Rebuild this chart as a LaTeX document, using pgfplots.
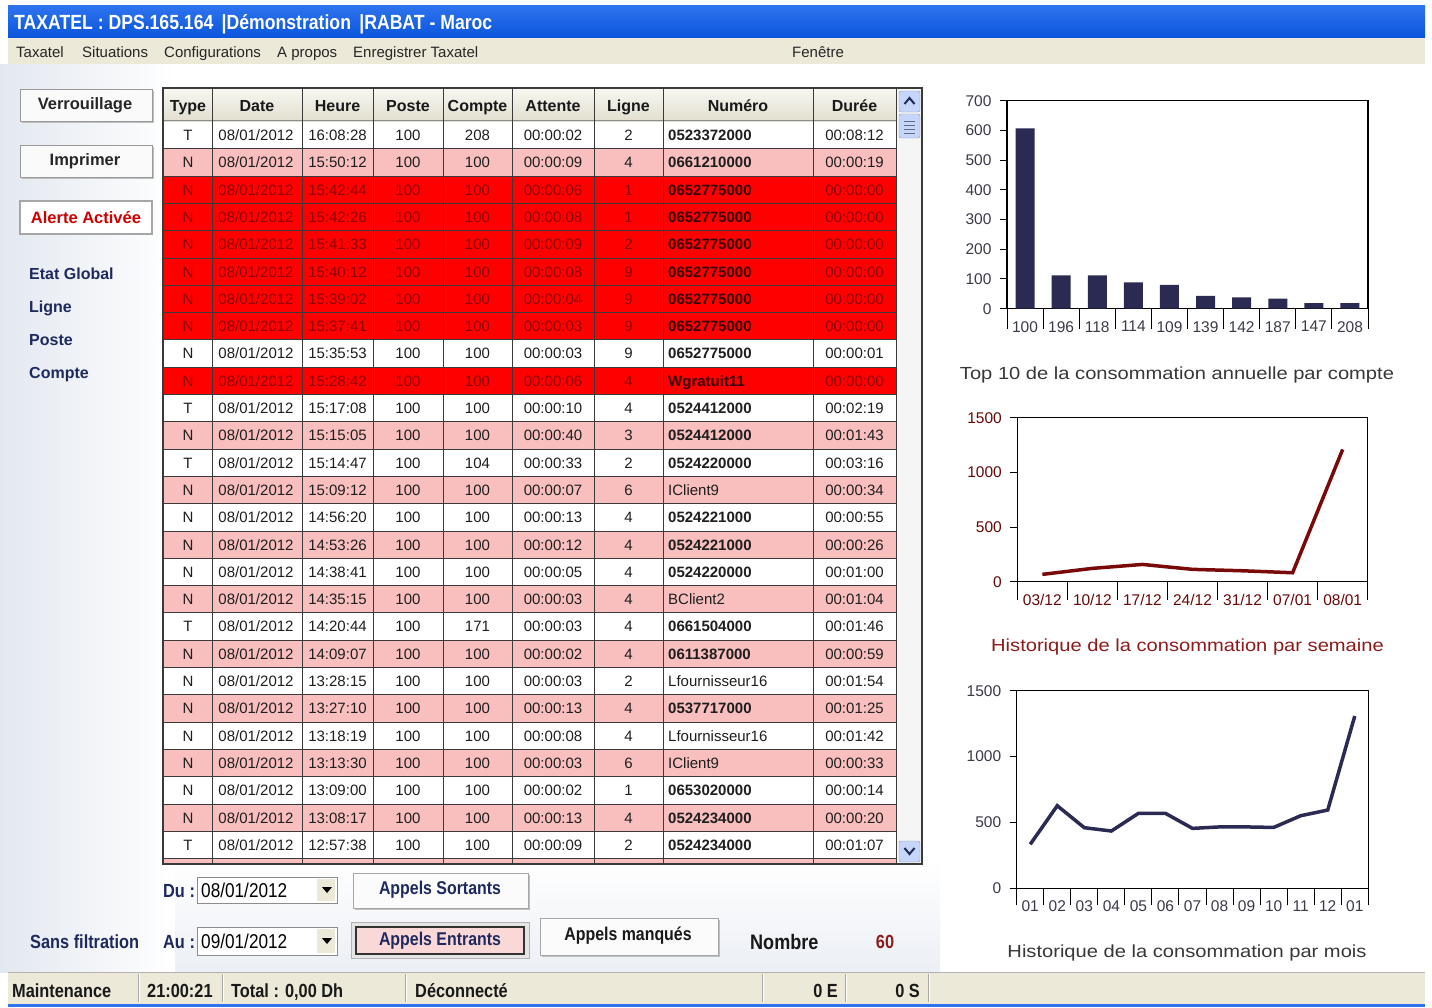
\documentclass[border=0pt]{standalone}
\usepackage{pgfplots}
\pgfplotsset{compat=1.18}
\usepackage{fontspec}
\setmainfont{Liberation Sans}
\newfontfamily\nar[FakeStretch=0.86]{Liberation Sans}
\newfontfamily\wide[FakeStretch=1.15]{Liberation Sans}
\newcommand\fs[1]{\fontsize{#1}{#1}\selectfont}
\definecolor{xpblue}{HTML}{0A55DC}
\definecolor{xpblue2}{HTML}{2F74EE}
\definecolor{menubg}{HTML}{ECE9D8}
\definecolor{rowP}{HTML}{F9BEBE}
\definecolor{rowR}{HTML}{FF0000}
\definecolor{rowW}{HTML}{FFFFFF}
\definecolor{txtW}{HTML}{1E1E1E}
\colorlet{txtP}{txtW}
\definecolor{txtR}{HTML}{900000}
\definecolor{numR}{HTML}{3A0000}
\definecolor{gridc}{HTML}{3A3A3A}
\definecolor{navy}{HTML}{1E2A5E}
\definecolor{barc}{HTML}{2A2A52}
\definecolor{wkred}{HTML}{7A0A0A}
\definecolor{capred}{HTML}{8E1B1B}
\definecolor{lblgray}{HTML}{3A3A48}
\definecolor{hdrtop}{HTML}{F7F6F0}
\definecolor{hdrbot}{HTML}{E2DFCF}
\definecolor{scrl}{HTML}{C6D6FA}
\definecolor{bgblue}{HTML}{E3E8F0}

\newcommand\trow[9]{%
  \pgfmathsetmacro\yt{-(121.5+27.3*(#1-1))}%
  \pgfmathsetmacro\yb{\yt-27.3}%
  \pgfmathsetmacro\yy{\yt-13.65-5.4}%
  \fill[row#2] (164,\yt) rectangle (896,\yb);
  \begin{scope}[every node/.style={text=txt#2, font={\fs{15}}, anchor=base, inner sep=0pt}]
    \node at (188,\yy) {#3};
    \node at (256,\yy) {08/01/2012};
    \node at (337.5,\yy) {#4};
    \node at (408,\yy) {100};
    \node at (477.5,\yy) {#5};
    \node at (553,\yy) {#6};
    \node at (628.5,\yy) {#7};
    \node[anchor=base west] at (668,\yy) {#8};
    \node at (854.5,\yy) {#9};
  \end{scope}
}

\begin{document}
\begin{tikzpicture}[x=1pt, y=1pt]
\useasboundingbox (0,0) rectangle (1432,-1007);
% background
\fill[white] (0,0) rectangle (1432,-1007);
\shade[left color=bgblue, right color=white] (0,-64) rectangle (175,-972);
\shade[top color=white, bottom color=bgblue!70] (175,-860) rectangle (940,-972);
% title bar
\shade[top color=xpblue2, bottom color=xpblue] (8,-5) rectangle (1425,-38);
\node[anchor=base west, text=white, font={\nar\bfseries\fs{20.5}}, inner sep=0pt] at (14,-29) {TAXATEL : DPS.165.164 \,|Démonstration \,|RABAT - Maroc};
% menu bar
\fill[menubg] (8,-38) rectangle (1425,-64);
\begin{scope}[every node/.style={anchor=base west, inner sep=0pt, font={\fs{15}}, text=black!85}]
\node at (16,-57) {Taxatel};
\node at (82,-57) {Situations};
\node at (164,-57) {Configurations};
\node at (277,-57) {A propos};
\node at (353,-57) {Enregistrer Taxatel};
\node at (792,-57) {Fenêtre};
\end{scope}
% left buttons
\fill[black!25] (22,-91) rectangle (154,-123);
\filldraw[fill=white!96!gray, draw=black!40] (20,-89) rectangle (152,-121);
\node[font={\bfseries\fs{16.5}}, text=black!85] at (85,-105) {Verrouillage};
\fill[black!25] (22,-147) rectangle (154,-179);
\filldraw[fill=white!96!gray, draw=black!40] (20,-145) rectangle (152,-177);
\node[font={\bfseries\fs{16.5}}, text=black!85] at (85,-161) {Imprimer};
\filldraw[fill=white, draw=black!35, line width=2pt] (20,-201) rectangle (152,-234);
\node[font={\bfseries\fs{16.5}}, text=red!80!black] at (86,-218) {Alerte Activée};
\begin{scope}[every node/.style={anchor=base west, inner sep=0pt, font={\bfseries\fs{16}}, text=navy}]
\node at (29,-279) {Etat Global};
\node at (29,-312) {Ligne};
\node at (29,-345) {Poste};
\node at (29,-378) {Compte};
\end{scope}
% table header
\shade[top color=hdrtop, bottom color=hdrbot] (164,-89) rectangle (896,-121.5);
\begin{scope}[every node/.style={font={\bfseries\fs{16}}, text=black!90, anchor=base, inner sep=0pt}]
\node at (188,-111) {Type};
\node at (257,-111) {Date};
\node at (337.5,-111) {Heure};
\node at (408,-111) {Poste};
\node at (477.5,-111) {Compte};
\node at (553,-111) {Attente};
\node at (628.5,-111) {Ligne};
\node at (738,-111) {Numéro};
\node at (854.5,-111) {Durée};
\end{scope}
% rows
\trow{1}{W}{T}{16:08:28}{208}{00:00:02}{2}{\bfseries 0523372000}{00:08:12}
\trow{2}{P}{N}{15:50:12}{100}{00:00:09}{4}{\bfseries 0661210000}{00:00:19}
\trow{3}{R}{N}{15:42:44}{100}{00:00:06}{1}{\bfseries\color{numR}0652775000}{00:00:00}
\trow{4}{R}{N}{15:42:26}{100}{00:00:08}{1}{\bfseries\color{numR}0652775000}{00:00:00}
\trow{5}{R}{N}{15:41:33}{100}{00:00:09}{2}{\bfseries\color{numR}0652775000}{00:00:00}
\trow{6}{R}{N}{15:40:12}{100}{00:00:08}{9}{\bfseries\color{numR}0652775000}{00:00:00}
\trow{7}{R}{N}{15:39:02}{100}{00:00:04}{9}{\bfseries\color{numR}0652775000}{00:00:00}
\trow{8}{R}{N}{15:37:41}{100}{00:00:03}{9}{\bfseries\color{numR}0652775000}{00:00:00}
\trow{9}{W}{N}{15:35:53}{100}{00:00:03}{9}{\bfseries 0652775000}{00:00:01}
\trow{10}{R}{N}{15:28:42}{100}{00:00:06}{4}{\bfseries\color{numR}Wgratuit11}{00:00:00}
\trow{11}{W}{T}{15:17:08}{100}{00:00:10}{4}{\bfseries 0524412000}{00:02:19}
\trow{12}{P}{N}{15:15:05}{100}{00:00:40}{3}{\bfseries 0524412000}{00:01:43}
\trow{13}{W}{T}{15:14:47}{104}{00:00:33}{2}{\bfseries 0524220000}{00:03:16}
\trow{14}{P}{N}{15:09:12}{100}{00:00:07}{6}{IClient9}{00:00:34}
\trow{15}{W}{N}{14:56:20}{100}{00:00:13}{4}{\bfseries 0524221000}{00:00:55}
\trow{16}{P}{N}{14:53:26}{100}{00:00:12}{4}{\bfseries 0524221000}{00:00:26}
\trow{17}{W}{N}{14:38:41}{100}{00:00:05}{4}{\bfseries 0524220000}{00:01:00}
\trow{18}{P}{N}{14:35:15}{100}{00:00:03}{4}{BClient2}{00:01:04}
\trow{19}{W}{T}{14:20:44}{171}{00:00:03}{4}{\bfseries 0661504000}{00:01:46}
\trow{20}{P}{N}{14:09:07}{100}{00:00:02}{4}{\bfseries 0611387000}{00:00:59}
\trow{21}{W}{N}{13:28:15}{100}{00:00:03}{2}{Lfournisseur16}{00:01:54}
\trow{22}{P}{N}{13:27:10}{100}{00:00:13}{4}{\bfseries 0537717000}{00:01:25}
\trow{23}{W}{N}{13:18:19}{100}{00:00:08}{4}{Lfournisseur16}{00:01:42}
\trow{24}{P}{N}{13:13:30}{100}{00:00:03}{6}{IClient9}{00:00:33}
\trow{25}{W}{N}{13:09:00}{100}{00:00:02}{1}{\bfseries 0653020000}{00:00:14}
\trow{26}{P}{N}{13:08:17}{100}{00:00:13}{4}{\bfseries 0524234000}{00:00:20}
\trow{27}{W}{T}{12:57:38}{100}{00:00:09}{2}{\bfseries 0524234000}{00:01:07}
\fill[rowP] (164,-858.6) rectangle (896,-864);
\draw[black!45, line width=1.5pt] (164,-120.5) -- (896,-120.5);
\foreach \i in {1,...,27}
  \draw[gridc, line width=1pt] (164,{-(121.5+27.3*\i)}) -- (896,{-(121.5+27.3*\i)});
\foreach \x in {212,302,373,443,512,594,663,813,896}
  \draw[gridc, line width=1pt] (\x,-89) -- (\x,-864);
% scrollbar
\fill[black!4] (897,-89) rectangle (922,-864);
\filldraw[fill=scrl, draw=scrl!70!black, rounded corners=2pt] (899,-91) rectangle (920,-112);
\draw[navy, line width=2pt] (904.5,-104) -- (909.5,-98) -- (914.5,-104);
\filldraw[fill=scrl, draw=scrl!70!black, rounded corners=2pt] (899,-114) rectangle (920,-138);
\foreach \yy in {121,125,129,133} \draw[scrl!50!black] (904,-\yy) -- (915,-\yy);
\filldraw[fill=scrl, draw=scrl!70!black, rounded corners=2pt] (899,-841) rectangle (920,-862);
\draw[navy, line width=2pt] (904.5,-848) -- (909.5,-854) -- (914.5,-848);
\draw[gridc, line width=1.5pt] (163,-88) rectangle (922,-864);
% bottom controls
\begin{scope}[every node/.style={inner sep=0pt, font={\nar\bfseries\fs{19}}}]
\node[anchor=base west, text=navy] at (163,-897) {Du :};
\node[anchor=base west, text=navy] at (163,-948) {Au :};
\node[anchor=base west, text=navy] at (30,-948) {Sans filtration};
\node[anchor=base west, text=black!90, font={\nar\bfseries\fs{21}}] at (750,-949) {Nombre};
\node[anchor=base, text=capred] at (885,-948) {60};
\end{scope}
\filldraw[fill=white, draw=black!45] (197,-877) rectangle (337,-903);
\fill[menubg] (317,-879) rectangle (335,-901);
\fill[black] (322,-887) -- (332,-887) -- (327,-893) -- cycle;
\node[anchor=base west, inner sep=0pt, font={\nar\fs{20}}] at (201,-897) {08/01/2012};
\filldraw[fill=white, draw=black!45] (197,-927) rectangle (337,-955);
\fill[menubg] (317,-929) rectangle (335,-953);
\fill[black] (322,-938) -- (332,-938) -- (327,-944) -- cycle;
\node[anchor=base west, inner sep=0pt, font={\nar\fs{20}}] at (201,-948) {09/01/2012};
\fill[black!25] (355,-875) rectangle (530,-910);
\filldraw[fill=white!97!gray, draw=black!35] (353,-873) rectangle (528,-908);
\node[font={\nar\bfseries\fs{18.5}}, text=navy] at (440,-890) {Appels Sortants};
\filldraw[fill=black!10, draw=black!30] (351,-922) rectangle (529,-958);
\filldraw[fill=rowP!60, draw=black!80, line width=1.2pt] (356,-927) rectangle (524,-954);
\node[font={\nar\bfseries\fs{18.5}}, text=navy] at (440,-941) {Appels Entrants};
\fill[black!25] (542,-920) rectangle (720,-957);
\filldraw[fill=white!97!gray, draw=black!35] (540,-918) rectangle (718,-955);
\node[font={\nar\bfseries\fs{18.5}}, text=black!90] at (628,-936) {Appels manqués};
% status bar
\fill[menubg] (8,-972) rectangle (1425,-1004);
\draw[black!30] (8,-972) -- (1425,-972);
\fill[xpblue2] (8,-1004) rectangle (1425,-1007);
\foreach \x in {138,222,405,762,845,928} {\draw[black!35] (\x,-974) -- (\x,-1002); \draw[white] (\x+1,-974) -- (\x+1,-1002);}
\begin{scope}[every node/.style={inner sep=0pt, font={\nar\bfseries\fs{19}}, text=black!90}]
\node[anchor=base west] at (12,-997) {Maintenance};
\node[anchor=base west] at (147,-997) {21:00:21};
\node[anchor=base west] at (231,-997) {Total : 0,00 Dh};
\node[anchor=base west] at (415,-997) {Déconnecté};
\node[anchor=base east] at (838,-997) {0 E};
\node[anchor=base east] at (920,-997) {0 S};
\end{scope}

% ---------- chart 1: top 10 ----------
\begin{axis}[at={(1007pt,-308.7pt)}, anchor=south west, scale only axis,
  width=361pt, height=208pt,
  xmin=-0.5, xmax=9.5, ymin=0, ymax=700, enlargelimits=false,
  ytick={0,100,...,700}, xtick={0,...,9},
  xticklabels={100,196,118,114,109,139,142,187,147,208},
  minor xtick={-0.5,0.5,...,9.5},
  tick align=outside, tick pos=left, major tick length=7pt, minor tick length=20pt,
  major x tick style={draw=none}, minor x tick style={black, line width=1pt},
  ytick style={black, line width=1pt},
  axis line style={black, line width=1.2pt},
  tick label style={font={\fs{15.5}}, text=lblgray},
  yticklabel style={xshift=-5pt}, xticklabel style={yshift=-2pt},
  /pgf/number format/assume math mode=true, /pgf/number format/1000 sep={},
  ybar, bar width=19pt]
\addplot[fill=barc, draw=none] coordinates {(0,607) (1,112) (2,112) (3,89) (4,80) (5,43) (6,38) (7,34) (8,19) (9,19)};
\end{axis}
\node[font={\wide\fs{17.5}}, text=black!78] at (1177,-375) {Top 10 de la consommation annuelle par compte};

% ---------- chart 2: weekly ----------
\begin{axis}[at={(1017.3pt,-581.7pt)}, anchor=south west, scale only axis,
  width=350.4pt, height=164pt,
  xmin=-0.5, xmax=6.5, ymin=0, ymax=1500, enlargelimits=false,
  ytick={0,500,1000,1500}, xtick={0,...,6},
  xticklabels={03/12,10/12,17/12,24/12,31/12,07/01,08/01},
  minor xtick={-0.5,0.5,...,6.5},
  tick align=outside, tick pos=left, major tick length=7pt, minor tick length=18pt,
  major x tick style={draw=none}, minor x tick style={black, line width=1pt},
  ytick style={black, line width=1pt},
  axis line style={black, line width=1.2pt},
  tick label style={font={\fs{15.5}}, text=wkred!85!black},
  yticklabel style={xshift=-5pt}, xticklabel style={yshift=-2pt},
  /pgf/number format/assume math mode=true, /pgf/number format/1000 sep={}]
\addplot[wkred, line width=3.5pt, mark=none] coordinates {(0,67) (1,122) (2,158) (3,113) (4,100) (5,82) (6,1210)};
\end{axis}
\node[font={\wide\fs{17.5}}, text=capred] at (1187.5,-647) {Historique de la consommation par semaine};

% ---------- chart 3: monthly ----------
\begin{axis}[at={(1016.7pt,-888.3pt)}, anchor=south west, scale only axis,
  width=351.6pt, height=197.6pt,
  xmin=-0.5, xmax=12.5, ymin=0, ymax=1500, enlargelimits=false,
  ytick={0,500,1000,1500}, xtick={0,...,12},
  xticklabels={01,02,03,04,05,06,07,08,09,10,11,12,01},
  minor xtick={-0.5,0.5,...,12.5},
  tick align=outside, tick pos=left, major tick length=7pt, minor tick length=17pt,
  major x tick style={draw=none}, minor x tick style={black, line width=1pt},
  ytick style={black, line width=1pt},
  axis line style={black, line width=1.2pt},
  tick label style={font={\fs{15.5}}, text=lblgray},
  yticklabel style={xshift=-5pt}, xticklabel style={yshift=-2pt},
  /pgf/number format/assume math mode=true, /pgf/number format/1000 sep={}]
\addplot[barc, line width=3.5pt, mark=none] coordinates {(0,334) (1,627) (2,460) (3,435) (4,569) (5,569) (6,455) (7,466) (8,466) (9,462) (10,551) (11,594) (12,1308)};
\end{axis}
\node[font={\wide\fs{17.5}}, text=black!78] at (1187,-953) {Historique de la consommation par mois};
\end{tikzpicture}
\end{document}
